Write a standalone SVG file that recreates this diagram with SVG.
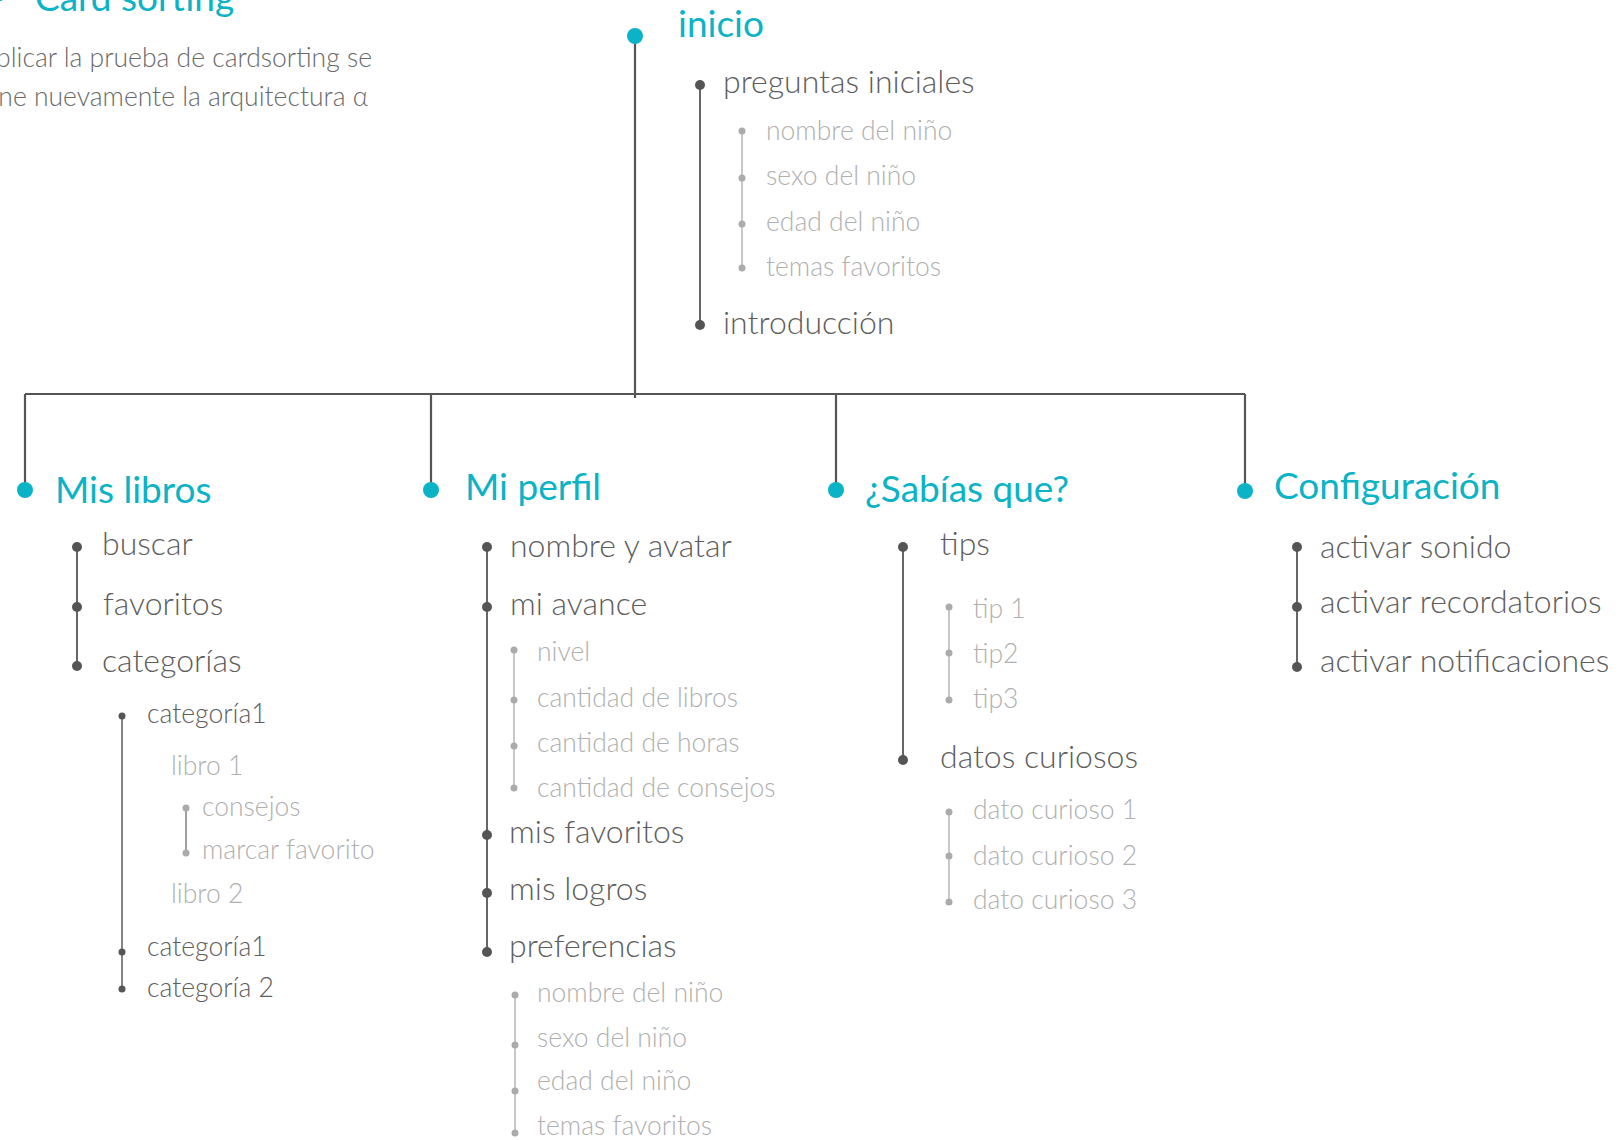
<svg xmlns="http://www.w3.org/2000/svg" width="1621" height="1140" viewBox="0 0 1621 1140">
<style>
text{font-family:Lato,"Open Sans","Liberation Sans",sans-serif}
.h{fill:#0bb3c6;font-size:37px;font-weight:400}
.t1{fill:#5d5d5d;font-size:32px;font-weight:300}
.t2{fill:#b0b0b0;font-size:26.5px;font-weight:300}
.tc{fill:#5d5d5d;font-size:26.5px;font-weight:300}
.p{fill:#6a6a6a;font-size:26.5px;font-weight:300}
.dh{fill:#0bb3c6}
.d1{fill:#555}
.d2{fill:#ababab}
.dc{fill:#555}
.l0{stroke:#555;stroke-width:2.2;fill:none}
.l1{stroke:#666;stroke-width:2;fill:none}
.l2{stroke:#bbb;stroke-width:1.6;fill:none}
.lc{stroke:#666;stroke-width:1.6;fill:none}
</style>
<rect width="1621" height="1140" fill="#fff"/>
<g id="connectors">
<path class="l0" d="M635 36V398M25 394H1245M25 394V490M431 394V490M836 394V490M1245 394V491"/>
<path class="l1" d="M700 85V325M77 547V666M487 547V952M903 547V760M1297 547V667"/>
<path class="l2" d="M742 131V268M514 650V788M515 995V1133M949 607V700M949 812V902"/>
<path class="lc" d="M122 716V989"/>
<path class="lc" d="M186 808V853" style="stroke:#888"/>
</g>
<g id="header">
<text class="h" x="5" y="11" text-anchor="end">–</text>
<text class="h" x="35" y="11">Card sorting</text>
<text class="p" x="372" y="67" text-anchor="end">plicar la prueba de cardsorting se</text>
<text class="p" x="368" y="106" text-anchor="end">ne nuevamente la arquitectura α</text>
</g>
<g id="inicio">
<circle class="dh" cx="635" cy="36" r="8"/>
<text class="h" x="678" y="37">inicio</text>
<circle class="d1" cx="700" cy="85" r="5"/>
<text class="t1" x="723" y="93">preguntas iniciales</text>
<circle class="d2" cx="742" cy="131" r="3.5"/>
<text class="t2" x="766" y="140">nombre del niño</text>
<circle class="d2" cx="742" cy="178" r="3.5"/>
<text class="t2" x="766" y="185">sexo del niño</text>
<circle class="d2" cx="742" cy="224" r="3.5"/>
<text class="t2" x="766" y="231">edad del niño</text>
<circle class="d2" cx="742" cy="268" r="3.5"/>
<text class="t2" x="766" y="276">temas favoritos</text>
<circle class="d1" cx="700" cy="325" r="5"/>
<text class="t1" x="723" y="334">introducción</text>
</g>
<g id="mis-libros">
<circle class="dh" cx="25" cy="490" r="8"/>
<text class="h" x="55" y="503">Mis libros</text>
<circle class="d1" cx="77" cy="547" r="5"/>
<text class="t1" x="102" y="555">buscar</text>
<circle class="d1" cx="77" cy="607" r="5"/>
<text class="t1" x="103" y="615">favoritos</text>
<circle class="d1" cx="77" cy="666" r="5"/>
<text class="t1" x="102" y="672">categorías</text>
<circle class="dc" cx="122" cy="716" r="3.5"/>
<text class="tc" x="147" y="723">categoría1</text>
<text class="t2" x="171" y="775">libro 1</text>
<circle class="d2" cx="186" cy="808" r="3.5"/>
<text class="t2" x="202" y="816">consejos</text>
<circle class="d2" cx="186" cy="853" r="3.5"/>
<text class="t2" x="202" y="859">marcar favorito</text>
<text class="t2" x="171" y="903">libro 2</text>
<circle class="dc" cx="122" cy="952" r="3.5"/>
<text class="tc" x="147" y="956">categoría1</text>
<circle class="dc" cx="122" cy="989" r="3.5"/>
<text class="tc" x="147" y="997">categoría 2</text>
</g>
<g id="mi-perfil">
<circle class="dh" cx="431" cy="490" r="8"/>
<text class="h" x="465" y="500">Mi perfil</text>
<circle class="d1" cx="487" cy="547" r="5"/>
<text class="t1" x="510" y="557">nombre y avatar</text>
<circle class="d1" cx="487" cy="607" r="5"/>
<text class="t1" x="510" y="615">mi avance</text>
<circle class="d2" cx="514" cy="650" r="3.5"/>
<text class="t2" x="537" y="661">nivel</text>
<circle class="d2" cx="514" cy="700" r="3.5"/>
<text class="t2" x="537" y="707">cantidad de libros</text>
<circle class="d2" cx="514" cy="746" r="3.5"/>
<text class="t2" x="537" y="752">cantidad de horas</text>
<circle class="d2" cx="514" cy="788" r="3.5"/>
<text class="t2" x="537" y="797">cantidad de consejos</text>
<circle class="d1" cx="487" cy="835" r="5"/>
<text class="t1" x="509" y="843">mis favoritos</text>
<circle class="d1" cx="487" cy="893" r="5"/>
<text class="t1" x="509" y="900">mis logros</text>
<circle class="d1" cx="487" cy="952" r="5"/>
<text class="t1" x="509" y="957">preferencias</text>
<circle class="d2" cx="515" cy="995" r="3.5"/>
<text class="t2" x="537" y="1002">nombre del niño</text>
<circle class="d2" cx="515" cy="1045" r="3.5"/>
<text class="t2" x="537" y="1047">sexo del niño</text>
<circle class="d2" cx="515" cy="1091" r="3.5"/>
<text class="t2" x="537" y="1090">edad del niño</text>
<circle class="d2" cx="515" cy="1133" r="3.5"/>
<text class="t2" x="537" y="1135">temas favoritos</text>
</g>
<g id="sabias-que">
<circle class="dh" cx="836" cy="490" r="8"/>
<text class="h" x="865" y="502">¿Sabías que?</text>
<circle class="d1" cx="903" cy="547" r="5"/>
<text class="t1" x="940" y="555">tips</text>
<circle class="d2" cx="949" cy="607" r="3.5"/>
<text class="t2" x="973" y="618">tip 1</text>
<circle class="d2" cx="949" cy="653" r="3.5"/>
<text class="t2" x="973" y="663">tip2</text>
<circle class="d2" cx="949" cy="700" r="3.5"/>
<text class="t2" x="973" y="708">tip3</text>
<circle class="d1" cx="903" cy="760" r="5"/>
<text class="t1" x="940" y="768">datos curiosos</text>
<circle class="d2" cx="949" cy="812" r="3.5"/>
<text class="t2" x="973" y="819">dato curioso 1</text>
<circle class="d2" cx="949" cy="856" r="3.5"/>
<text class="t2" x="973" y="865">dato curioso 2</text>
<circle class="d2" cx="949" cy="902" r="3.5"/>
<text class="t2" x="973" y="909">dato curioso 3</text>
</g>
<g id="configuracion">
<circle class="dh" cx="1245" cy="491" r="8"/>
<text class="h" x="1274" y="499">Configuración</text>
<circle class="d1" cx="1297" cy="547" r="5"/>
<text class="t1" x="1320" y="558">activar sonido</text>
<circle class="d1" cx="1297" cy="607" r="5"/>
<text class="t1" x="1320" y="613">activar recordatorios</text>
<circle class="d1" cx="1297" cy="667" r="5"/>
<text class="t1" x="1320" y="672">activar notificaciones</text>
</g>
</svg>
